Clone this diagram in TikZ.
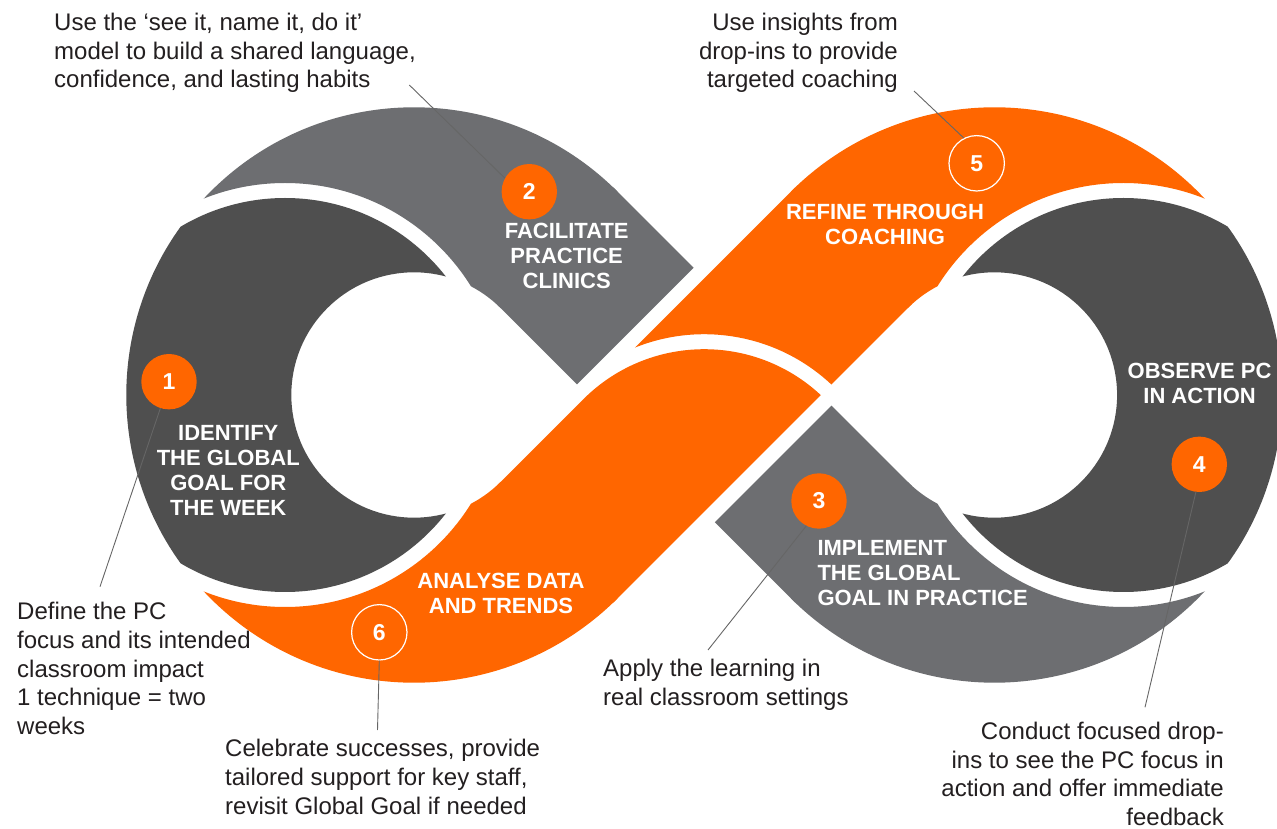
\documentclass[tikz,border=0pt]{standalone}
\usepackage{fontspec}
\setmainfont{Liberation Sans}
\newfontfamily\labfont{Liberation Sans}
\definecolor{darkseg}{HTML}{4F4F4F}
\definecolor{grayseg}{HTML}{6D6E71}
\definecolor{orangeseg}{HTML}{FF6600}
\definecolor{leadercol}{HTML}{666666}
\definecolor{bodytext}{HTML}{231F20}
\begin{document}
\begin{tikzpicture}[x=1pt,y=1pt,
  body/.style={font={\fontsize{24}{28.6}\selectfont}, text=bodytext, inner sep=0pt},
  seglabel/.style={font={\labfont\bfseries\fontsize{22}{25}\selectfont}, text=white, inner sep=0pt, align=center},
  badge/.style={circle, fill=orangeseg, minimum size=55.4pt, inner sep=0pt, text=white, font={\bfseries\fontsize{23}{23}\selectfont}},
  badgering/.style={badge, draw=white, line width=1.2pt},
  leaderline/.style={draw=leadercol, line width=0.9pt}]
\useasboundingbox (0,0) rectangle (1277,828);
\fill[white] (0,0) rectangle (1277,828);
\clip (0,0) rectangle (1277,828);

% ---------- left lobe ----------
% gray upper ring part (outside gap circle G1)
\begin{scope}
  \clip (-600,-600) -- (1900,-600) -- (1900,1500) -- (-600,1500) -- cycle
        (504,426) arc[start angle=0,end angle=-360,radius=219];
  \fill[grayseg] (617.43,636.43) arc[start angle=45,end angle=180,radius=287.7]
     -- (291.3,433) arc[start angle=180,end angle=45,radius=122.7] -- cycle;
\end{scope}
% orange lower ring part (outside gap circle G2)
\begin{scope}
  \clip (-600,-600) -- (1900,-600) -- (1900,1500) -- (-600,1500) -- cycle
        (504,440) arc[start angle=0,end angle=-360,radius=219];
  \fill[orangeseg] (126.3,433) arc[start angle=180,end angle=315,radius=287.7]
     -- (500.76,346.24) arc[start angle=315,end angle=180,radius=122.7] -- cycle;
\end{scope}
% dark left piece
\begin{scope}
  \clip (285,426) circle[radius=204];
  \clip (285,440) circle[radius=204];
  \fill[darkseg] (617.43,636.43) arc[start angle=45,end angle=315,radius=287.7]
     -- (500.76,346.24) arc[start angle=315,end angle=45,radius=122.7] -- cycle;
\end{scope}

% ---------- right lobe ----------
\begin{scope}
  \clip (-600,-600) -- (1900,-600) -- (1900,1500) -- (-600,1500) -- cycle
        (1342.4,426) arc[start angle=0,end angle=-360,radius=219];
  \fill[orangeseg] (1282.1,433) arc[start angle=0,end angle=135,radius=287.7]
     -- (907.64,519.76) arc[start angle=135,end angle=0,radius=122.7] -- cycle;
\end{scope}
\begin{scope}
  \clip (-600,-600) -- (1900,-600) -- (1900,1500) -- (-600,1500) -- cycle
        (1342.4,440) arc[start angle=0,end angle=-360,radius=219];
  \fill[grayseg] (790.97,229.57) arc[start angle=-135,end angle=0,radius=287.7]
     -- (1117.1,433) arc[start angle=0,end angle=-135,radius=122.7] -- cycle;
\end{scope}
\begin{scope}
  \clip (1123.4,426) circle[radius=204];
  \clip (1123.4,440) circle[radius=204];
  \fill[darkseg] (790.97,229.57) arc[start angle=-135,end angle=135,radius=287.7]
     -- (907.64,519.76) arc[start angle=135,end angle=-135,radius=122.7] -- cycle;
\end{scope}

% ---------- crossing bands (slightly overlapping the lobes to avoid seams) ----------
\fill[grayseg] (496.77,523.77) -- (613.44,640.44) -- (693.6,560.27) -- (576.93,443.6) -- cycle;
\fill[grayseg] (714.8,305.72) -- (831.48,422.4) -- (911.64,342.24) -- (794.97,225.57) -- cycle;
\fill[orangeseg] (613.44,225.57) -- (820.78,432.9) arc[start angle=47.02,end angle=135,radius=171]
   -- (496.77,342.24) -- cycle;
\fill[orangeseg] (634.98,480.42) arc[start angle=111.85,end angle=46.85,radius=186]
   -- (911.64,523.77) -- (794.97,640.44) -- cycle;

% ---------- segment labels ----------
\node[seglabel] (s2) at (566.7,572) {FACILITATE\\PRACTICE\\CLINICS};
\node[seglabel] (s5) at (885,603.3) {REFINE THROUGH\\COACHING};
\node[seglabel] (s4) at (1199.6,444.3) {OBSERVE PC\\IN ACTION};
\node[seglabel] (s1) at (228.3,358) {IDENTIFY\\THE GLOBAL\\GOAL FOR\\THE WEEK};
\node[seglabel] (s6) at (501,234.3) {ANALYSE DATA\\AND TRENDS};
\node[seglabel, align=left, anchor=west] (s3) at (817.3,255) {IMPLEMENT\\THE GLOBAL\\GOAL IN PRACTICE};

% ---------- badges ----------
\node[badge] (c1) at (169,446.3) {1};
\node[badge] (c2) at (529.3,636.3) {2};
\node[badge] (c3) at (819,327) {3};
\node[badge] (c4) at (1199.3,363.7) {4};
\node[badgering] (c5) at (976.7,664.7) {5};
\node[badgering] (c6) at (379.3,195.7) {6};

% ---------- explanatory texts ----------
\node[body, anchor=west, align=left] (t2) at (54,775) {Use the ‘see it, name it, do it’\\model to build a shared language,\\confidence, and lasting habits};
\node[body, anchor=east, align=right] (t5) at (898,775) {Use insights from\\drop-ins to provide\\targeted coaching};
\node[body, anchor=west, align=left] (t1) at (17,159.5) {Define the PC\\focus and its intended\\classroom impact\\1 technique = two\\weeks};
\node[body, anchor=west, align=left] (t6) at (225,51) {Celebrate successes, provide\\tailored support for key staff,\\revisit Global Goal if needed};
\node[body, anchor=west, align=left] (t3) at (603,143.5) {Apply the learning in\\real classroom settings};
\node[body, anchor=east, align=right] (t4) at (1224,54) {Conduct focused drop-\\ins to see the PC focus in\\action and offer immediate\\feedback};

% ---------- leader lines ----------
\coordinate (e1) at (100,241.3);
\coordinate (e2) at (409.3,743);
\coordinate (e3) at (708,178);
\coordinate (e4) at (1145,120.7);
\coordinate (e5) at (914,737);
\coordinate (e6) at (377.5,98);
\draw[leaderline] (c1.252) -- (e1);
\draw[leaderline] (e2) -- (c2.151);
\draw[leaderline] (c3.243) -- (e3);
\draw[leaderline] (c4.263) -- (e4);
\draw[leaderline] (e5) -- (c5.117);
\draw[leaderline] (c6.270) -- (e6);
\end{tikzpicture}
\end{document}
